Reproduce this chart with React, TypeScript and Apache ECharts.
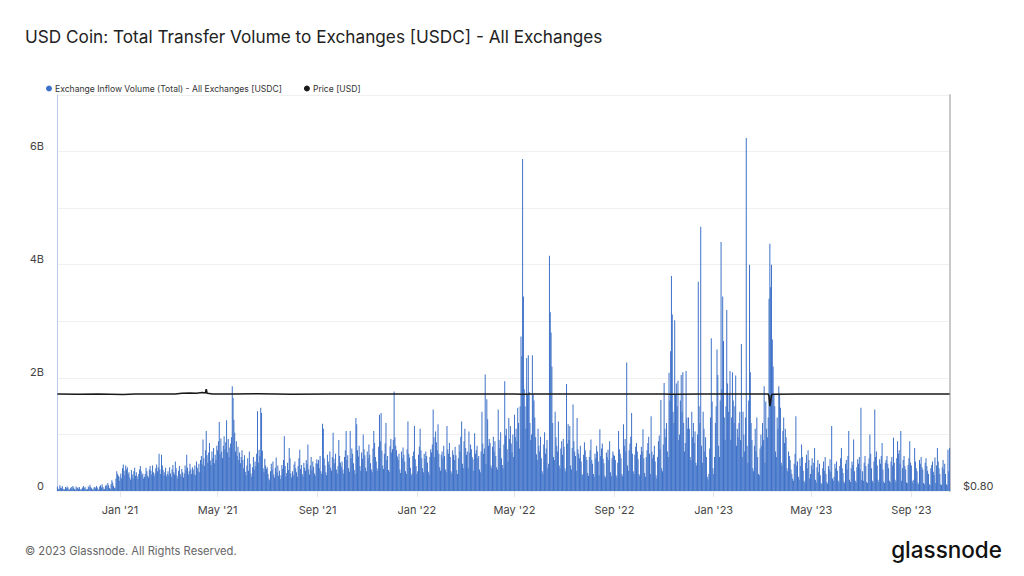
import React, { useEffect, useRef } from 'react';
import * as echarts from 'echarts';

// Daily exchange inflow volume, in units of 10M USDC (100 = 1B)
const oct20 = [8, 4, 3, 10, 6, 5, 9, 4, 2, 3, 7, 5, 8, 6, 3, 2];
const nov20 = [5, 7, 4, 9, 6, 3, 2, 8, 5, 6, 4, 7, 3, 2, 4, 6, 9, 5, 7, 4, 2, 3, 8, 6, 11, 7, 5, 3, 2, 6];
const dec20 = [7, 5, 9, 6, 3, 2, 8, 10, 6, 12, 7, 4, 3, 9, 11, 8, 14, 10, 5, 4, 12, 19, 15, 9, 5, 6, 22, 35, 30, 27, 18];
const jan21 = [25, 31, 22, 40, 47, 36, 28, 45, 38, 42, 30, 33, 24, 20, 37, 29, 22, 35, 41, 27, 33, 26, 21, 30, 38, 44, 35, 28, 31, 22, 25];
const feb21 = [30, 41, 35, 27, 24, 38, 44, 36, 29, 45, 33, 26, 31, 40, 47, 35, 42, 66, 38, 30, 64, 45, 37, 28, 33, 41, 26, 30];
const mar21 = [35, 28, 42, 31, 25, 38, 46, 33, 29, 52, 40, 27, 22, 36, 44, 30, 26, 39, 33, 24, 31, 45, 37, 64, 41, 29, 35, 48, 38, 30, 42];
const apr21 = [38, 30, 45, 28, 52, 41, 35, 48, 33, 55, 62, 47, 91, 58, 44, 72, 106, 63, 50, 68, 85, 54, 46, 70, 58, 76, 49, 64, 55, 80];
const may21 = [72, 88, 122, 65, 93, 70, 58, 80, 97, 74, 86, 125, 68, 92, 60, 77, 84, 95, 185, 165, 126, 103, 70, 88, 62, 78, 55, 68, 49, 60, 72];
const jun21 = [55, 40, 63, 34, 28, 45, 58, 36, 70, 48, 31, 25, 42, 60, 38, 52, 44, 66, 141, 50, 73, 62, 147, 138, 71, 40, 33, 57, 45, 39];
const jul21 = [42, 30, 22, 19, 35, 48, 38, 52, 29, 24, 41, 59, 33, 45, 27, 36, 21, 28, 46, 39, 55, 97, 44, 26, 32, 50, 37, 76, 58, 31, 24];
const aug21 = [35, 28, 47, 52, 40, 33, 25, 44, 58, 73, 39, 46, 30, 26, 50, 41, 36, 55, 48, 82, 38, 29, 45, 60, 37, 52, 43, 31, 27, 49, 56];
const sep21 = [48, 55, 40, 62, 35, 30, 119, 110, 58, 45, 33, 28, 64, 52, 47, 70, 41, 36, 60, 103, 57, 49, 66, 38, 31, 44, 90, 62, 50, 43];
const oct21 = [52, 38, 31, 60, 72, 106, 55, 63, 40, 34, 106, 58, 75, 66, 49, 37, 30, 129, 118, 72, 61, 80, 44, 36, 68, 57, 100, 74, 63, 41, 35];
const nov21 = [70, 58, 82, 64, 49, 38, 33, 75, 106, 85, 60, 52, 40, 36, 78, 135, 88, 138, 71, 45, 39, 66, 84, 120, 55, 62, 37, 34, 79, 92];
const dec21 = [68, 74, 90, 176, 95, 80, 72, 61, 55, 66, 38, 32, 70, 58, 77, 64, 52, 35, 30, 74, 123, 66, 59, 41, 28, 31, 62, 70, 115, 56, 44];
const jan22 = [30, 35, 64, 78, 110, 72, 58, 40, 33, 66, 57, 70, 62, 50, 34, 29, 60, 74, 68, 82, 144, 95, 60, 105, 86, 72, 118, 66, 42, 36, 64];
const feb22 = [70, 58, 80, 62, 38, 33, 115, 74, 66, 85, 60, 35, 31, 72, 64, 55, 78, 63, 37, 30, 58, 82, 70, 96, 123, 48, 40, 88];
const mar22 = [110, 76, 64, 70, 40, 105, 68, 82, 74, 60, 56, 36, 102, 66, 72, 80, 58, 62, 38, 33, 70, 140, 84, 66, 75, 206, 48, 162, 127, 80, 92];
const apr22 = [85, 45, 40, 78, 96, 70, 88, 62, 42, 38, 144, 90, 76, 104, 58, 46, 40, 82, 194, 98, 110, 74, 52, 129, 92, 115, 84, 68, 100, 60];
const may22 = [135, 95, 110, 88, 147, 120, 75, 150, 273, 238, 587, 344, 180, 150, 110, 235, 170, 240, 175, 120, 90, 100, 240, 170, 160, 130, 95, 65, 55, 110, 80];
const jun22 = [70, 96, 58, 35, 30, 82, 104, 66, 75, 90, 40, 48, 416, 316, 280, 220, 120, 60, 55, 140, 95, 80, 70, 123, 45, 40, 75, 88, 64, 92];
const jul22 = [78, 40, 35, 189, 84, 118, 90, 115, 45, 38, 76, 153, 88, 70, 62, 36, 129, 74, 66, 58, 80, 52, 30, 28, 64, 86, 72, 60, 55, 32, 27];
const aug22 = [60, 72, 91, 55, 48, 30, 25, 66, 58, 80, 70, 52, 28, 109, 62, 75, 84, 57, 49, 27, 24, 68, 60, 73, 55, 88, 33, 26, 58, 70, 64];
const sep22 = [62, 55, 28, 24, 50, 106, 74, 66, 58, 30, 26, 118, 80, 92, 70, 227, 45, 36, 72, 84, 96, 138, 66, 35, 30, 64, 78, 85, 70, 56];
const oct22 = [30, 27, 64, 78, 70, 109, 58, 32, 25, 60, 72, 85, 96, 66, 30, 132, 70, 58, 64, 80, 52, 28, 22, 60, 88, 98, 74, 161, 40, 35, 82];
const nov22 = [191, 110, 95, 120, 70, 60, 209, 160, 247, 380, 312, 140, 120, 302, 170, 190, 150, 195, 90, 100, 160, 205, 140, 210, 120, 70, 85, 212, 130, 110];
const dec22 = [130, 110, 60, 55, 140, 95, 120, 85, 105, 50, 45, 100, 370, 150, 120, 467, 80, 50, 140, 110, 70, 95, 60, 25, 20, 30, 75, 130, 270, 158, 40];
const jan23 = [30, 60, 120, 150, 250, 205, 80, 60, 160, 440, 180, 344, 265, 130, 90, 150, 320, 190, 140, 170, 212, 90, 130, 210, 160, 120, 150, 204, 80, 110, 95];
const feb23 = [120, 140, 90, 260, 60, 140, 100, 70, 130, 624, 80, 50, 160, 400, 210, 120, 90, 40, 35, 80, 110, 70, 130, 60, 30, 28, 75, 100];
const mar23 = [80, 120, 90, 185, 50, 158, 110, 95, 130, 340, 437, 360, 400, 268, 220, 170, 150, 70, 60, 130, 110, 185, 170, 147, 50, 45, 106, 130, 85, 110, 95];
const apr23 = [40, 35, 70, 62, 55, 38, 30, 22, 18, 48, 66, 132, 45, 52, 25, 20, 58, 44, 82, 60, 36, 18, 15, 50, 64, 40, 72, 55, 22, 30];
const may23 = [45, 58, 38, 50, 76, 20, 15, 42, 55, 33, 48, 28, 14, 12, 40, 52, 36, 60, 30, 16, 13, 44, 38, 56, 34, 115, 22, 18, 25, 48, 40];
const jun23 = [52, 36, 18, 15, 44, 58, 76, 40, 32, 17, 14, 48, 55, 38, 62, 106, 20, 16, 40, 52, 46, 91, 35, 18, 15, 42, 56, 48, 60, 38];
const jul23 = [147, 20, 35, 18, 50, 62, 44, 16, 14, 48, 58, 100, 66, 40, 18, 15, 52, 144, 60, 70, 45, 20, 16, 56, 48, 62, 85, 38, 17, 14, 50];
const aug23 = [55, 62, 48, 40, 18, 15, 52, 60, 45, 94, 50, 20, 16, 58, 88, 66, 72, 48, 106, 18, 40, 55, 62, 44, 38, 15, 14, 46, 58, 88, 50];
const sep23 = [45, 18, 14, 20, 76, 52, 40, 35, 15, 12, 55, 48, 60, 42, 38, 14, 12, 50, 58, 44, 36, 30, 12, 10, 40, 46, 52, 34, 28, 59];
const oct23 = [14, 45, 76, 52, 40, 30, 12, 10, 42, 55, 38, 48, 30, 12, 10, 73, 35, 76];

const monthStarts = [
  '2020-10-16', '2020-11-01', '2020-12-01',
  '2021-01-01', '2021-02-01', '2021-03-01', '2021-04-01', '2021-05-01', '2021-06-01',
  '2021-07-01', '2021-08-01', '2021-09-01', '2021-10-01', '2021-11-01', '2021-12-01',
  '2022-01-01', '2022-02-01', '2022-03-01', '2022-04-01', '2022-05-01', '2022-06-01',
  '2022-07-01', '2022-08-01', '2022-09-01', '2022-10-01', '2022-11-01', '2022-12-01',
  '2023-01-01', '2023-02-01', '2023-03-01', '2023-04-01', '2023-05-01', '2023-06-01',
  '2023-07-01', '2023-08-01', '2023-09-01', '2023-10-01',
];
const monthlyVolumes = [
  oct20, nov20, dec20,
  jan21, feb21, mar21, apr21, may21, jun21, jul21, aug21, sep21, oct21, nov21, dec21,
  jan22, feb22, mar22, apr22, may22, jun22, jul22, aug22, sep22, oct22, nov22, dec22,
  jan23, feb23, mar23, apr23, may23, jun23, jul23, aug23, sep23, oct23,
];

// Price [USD]
const priceDates = [
  '2020-10-16', '2020-11-10', '2020-12-05', '2021-01-05', '2021-01-20', '2021-02-15',
  '2021-03-10', '2021-03-18', '2021-03-28', '2021-04-05', '2021-04-12', '2021-04-16',
  '2021-04-17', '2021-04-18', '2021-04-25', '2021-05-20', '2021-06-20', '2021-08-01',
  '2021-09-15', '2021-11-01', '2021-12-15', '2022-02-01', '2022-03-20', '2022-05-01',
  '2022-05-12', '2022-05-20', '2022-07-01', '2022-09-01', '2022-11-01', '2022-11-10',
  '2022-12-15', '2023-01-20', '2023-02-20', '2023-03-09', '2023-03-10', '2023-03-11',
  '2023-03-12', '2023-03-13', '2023-03-14', '2023-04-15', '2023-06-01', '2023-07-15',
  '2023-09-01', '2023-10-18',
];
const priceValues = [
  1.0, 0.9995, 1.0, 0.999, 1.0, 1.0,
  1.0, 1.0015, 1.002, 1.0015, 1.003, 1.002,
  1.01, 1.0015, 1.0, 1.0, 1.0005, 0.9995,
  1.0, 1.0, 1.0, 1.0, 1.0, 1.0,
  0.9995, 1.0, 1.0, 1.0, 1.0, 0.9995,
  1.0, 1.0, 1.0, 1.0, 0.995, 0.975,
  0.985, 0.997, 0.9995, 1.0, 1.0, 1.0,
  1.0, 1.0,
];

const tickDates = [
  '2021-01-01', '2021-05-01', '2021-09-01', '2022-01-01', '2022-05-01',
  '2022-09-01', '2023-01-01', '2023-05-01', '2023-09-01',
];
const tickLabels = ["Jan '21", "May '21", "Sep '21", "Jan '22", "May '22", "Sep '22", "Jan '23", "May '23", "Sep '23"];

const DAY = 86400000;
const toTime = (d: string) => Date.parse(d + 'T00:00:00Z');

export default function App() {
  const ref = useRef<HTMLDivElement>(null);

  useEffect(() => {
    if (!ref.current) return;
    const chart = echarts.init(ref.current, undefined, { renderer: 'svg' });

    const volumeData: [number, number][] = [];
    monthlyVolumes.forEach((arr, k) => {
      const start = toTime(monthStarts[k]);
      arr.forEach((v, i) => volumeData.push([start + i * DAY, v * 1e7]));
    });
    const priceData = priceDates.map((d, i) => [toTime(d), priceValues[i]]);
    const tickTimes = tickDates.map(toTime);

    const font = 'Inter, "Noto Sans", sans-serif';

    chart.setOption({
      animation: false,
      backgroundColor: '#ffffff',
      textStyle: { fontFamily: font },
      title: [
        {
          text: 'USD Coin: Total Transfer Volume to Exchanges [USDC] - All Exchanges',
          left: 20,
          top: 23,
          textStyle: { fontFamily: font, fontSize: 17.2, fontWeight: 'normal', color: '#222222' },
        },
        {
          text: '© 2023 Glassnode. All Rights Reserved.',
          left: 20,
          top: 540,
          textStyle: { fontFamily: font, fontSize: 11.2, fontWeight: 'normal', color: '#666666' },
        },
      ],
      graphic: [
        {
          type: 'text',
          right: 22,
          top: 538,
          style: { text: 'glassnode', fontFamily: font, fontSize: 22.5, fontWeight: 500, fill: '#111111' },
        },
      ],
      legend: {
        left: 41,
        top: 79,
        icon: 'circle',
        itemWidth: 6,
        itemHeight: 6,
        itemGap: 22,
        itemStyle: {},
        textStyle: { fontFamily: font, fontSize: 8.6, color: '#333333', padding: [0, 0, 0, -2] },
        data: ['Exchange Inflow Volume (Total) - All Exchanges [USDC]', 'Price [USD]'],
      },
      grid: { left: 57, right: 74, top: 95, bottom: 85, containLabel: false },
      xAxis: {
        type: 'value',
        min: toTime('2020-10-16') - DAY / 2,
        max: toTime('2023-10-18') + DAY / 2,
        axisLine: { show: false },
        axisTick: { show: true, customValues: tickTimes, length: 6, lineStyle: { color: '#e6e6e6' } },
        splitLine: { show: false },
        axisLabel: {
          customValues: tickTimes,
          margin: 13,
          fontSize: 11,
          color: '#444444',
          fontFamily: font,
          formatter: (v: number) => {
            const i = tickTimes.indexOf(v);
            return i >= 0 ? tickLabels[i] : '';
          },
        },
      },
      yAxis: [
        {
          type: 'value',
          min: 0,
          max: 7e9,
          interval: 1e9,
          position: 'left',
          axisLine: { show: true, lineStyle: { color: '#b9ccee', width: 1 } },
          axisTick: { show: false },
          splitLine: { show: true, lineStyle: { color: '#f0f0f0' } },
          axisLabel: {
            margin: 13,
            fontSize: 11,
            color: '#444444',
            fontFamily: font,
            verticalAlign: 'bottom',
            formatter: (v: number) => {
              const b = Math.round(v / 1e9);
              if (b === 0) return '0';
              return b % 2 === 0 ? b + 'B' : '';
            },
          },
        },
        {
          type: 'value',
          min: 0.8,
          max: 1.6165,
          interval: 0.8,
          position: 'right',
          axisLine: { show: true, lineStyle: { color: '#c8c8c8', width: 2 } },
          axisTick: { show: false },
          splitLine: { show: false },
          axisLabel: {
            margin: 13,
            fontSize: 11,
            color: '#444444',
            fontFamily: font,
            verticalAlign: 'bottom',
            showMaxLabel: false,
            formatter: (v: number) => (Math.abs(v - 0.8) < 1e-6 ? '$0.80' : ''),
          },
        },
      ],
      series: [
        {
          name: 'Exchange Inflow Volume (Total) - All Exchanges [USDC]',
          type: 'bar',
          yAxisIndex: 0,
          data: volumeData,
          barWidth: 1,
          itemStyle: { color: '#3e71c8' },
          emphasis: { disabled: true },
        },
        {
          name: 'Price [USD]',
          type: 'line',
          yAxisIndex: 1,
          data: priceData,
          showSymbol: false,
          symbol: 'none',
          lineStyle: { color: '#1a1a1a', width: 1.6 },
          itemStyle: { color: '#1a1a1a' },
          z: 5,
        },
      ],
    });

    return () => chart.dispose();
  }, []);

  return (
    <div
      ref={ref}
      style={{ position: 'fixed', left: 0, top: 0, width: 1024, height: 576, background: '#ffffff' }}
    />
  );
}
